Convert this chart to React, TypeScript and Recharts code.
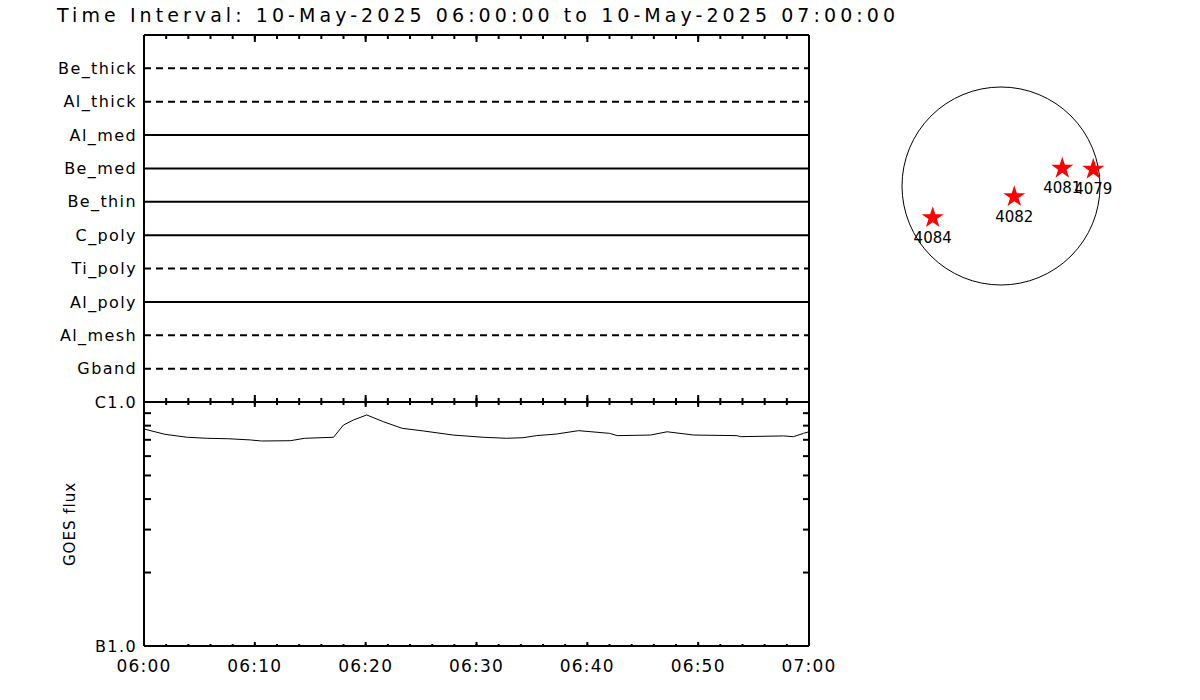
import React from "react";
import {
  ComposedChart,
  Line,
  LineChart,
  ReferenceDot,
  ReferenceLine,
  Scatter,
  ScatterChart,
  Symbols,
  XAxis,
  YAxis,
} from "recharts";

const TITLE = "Time Interval: 10-May-2025 06:00:00 to 10-May-2025 07:00:00";

// XRT filters, top to bottom
const filters = [
  "Be_thick",
  "Al_thick",
  "Al_med",
  "Be_med",
  "Be_thin",
  "C_poly",
  "Ti_poly",
  "Al_poly",
  "Al_mesh",
  "Gband",
];
// filters with observations (drawn solid)
const usedFilters = ["Al_med", "Be_med", "Be_thin", "C_poly", "Al_poly"];

// GOES flux, minutes after 06:00 and W/m^2
const goesMinutes = [
  0, 1.9, 3.9, 5.7, 7.6, 9.6, 10.6, 13.2, 14.5, 17.1, 18.0, 18.9, 20.1, 21.6,
  23.3, 25.2, 27.9, 30.6, 32.7, 34.2, 35.4, 37.2, 39.2, 42.0, 42.7, 45.7, 47.2,
  49.6, 53.5, 53.8, 57.7, 58.6, 59.5, 60,
];
const goesFlux = [
  7.75e-7, 7.37e-7, 7.17e-7, 7.1e-7, 7.07e-7, 6.99e-7, 6.92e-7, 6.94e-7,
  7.1e-7, 7.17e-7, 8.05e-7, 8.44e-7, 8.85e-7, 8.3e-7, 7.8e-7, 7.61e-7,
  7.32e-7, 7.17e-7, 7.1e-7, 7.14e-7, 7.28e-7, 7.39e-7, 7.63e-7, 7.44e-7,
  7.28e-7, 7.32e-7, 7.55e-7, 7.32e-7, 7.28e-7, 7.21e-7, 7.26e-7, 7.21e-7,
  7.44e-7, 7.55e-7,
];

const majorTicks = [0, 10, 20, 30, 40, 50, 60];
const minorTicks = [
  0, 2, 4, 6, 8, 10, 12, 14, 16, 18, 20, 22, 24, 26, 28, 30, 32, 34, 36, 38,
  40, 42, 44, 46, 48, 50, 52, 54, 56, 58, 60,
];
const goesClassTicks = [1e-7, 1e-6];
const goesMinorTicks = [2e-7, 3e-7, 4e-7, 5e-7, 6e-7, 7e-7, 8e-7, 9e-7];

// active regions on the disc (arcsec)
const regionNumbers = ["4084", "4082", "4081", "4079"];
const regionX = [-663, 129, 595, 896];
const regionY = [-308, -104, 172, 162];

const goesData = goesMinutes.map((t, i) => ({ t, flux: goesFlux[i] }));
const regions = regionNumbers.map((noaa, i) => ({
  noaa,
  x: regionX[i],
  y: regionY[i],
}));

const FONT = "'DejaVu Sans', sans-serif";
const axisLine = { stroke: "#000", strokeWidth: 2 };
const tickLine = { stroke: "#000", strokeWidth: 2 };
// mirrored axes need a non-zero size or recharts skips them
const THIN = 0.01;
const noLabel = () => <g />;

const fmtTime = (m: number) => {
  const h = 6 + Math.floor(m / 60);
  const mm = m % 60;
  return `0${h}:${mm < 10 ? "0" : ""}${mm}`;
};
const fmtClass = (v: number) => (v >= 1e-6 ? "C1.0" : "B1.0");
const filterY = (name: string) => filters.length - filters.indexOf(name);

function StarMark(props: any) {
  const { cx, cy, payload } = props;
  return (
    <g>
      <Symbols cx={cx} cy={cy} type="star" size={150} sizeType="area" fill="#ff0000" />
      <text
        x={cx}
        y={cy + 25}
        textAnchor="middle"
        fontSize={15}
        fontFamily={FONT}
        fill="#000"
      >
        {payload.noaa}
      </text>
    </g>
  );
}

function timeTicks(side: "top" | "bottom", major: number, minor: number, line: boolean) {
  return [
    <XAxis key={side + "Maj"} xAxisId={side + "Maj"} dataKey="t" type="number"
      domain={[0, 60]} allowDataOverflow orientation={side} mirror height={THIN}
      ticks={majorTicks} interval={0} tick={noLabel} tickSize={major}
      axisLine={line ? axisLine : false} tickLine={tickLine} />,
    <XAxis key={side + "Min"} xAxisId={side + "Min"} dataKey="t" type="number"
      domain={[0, 60]} allowDataOverflow orientation={side} mirror height={THIN}
      ticks={minorTicks} interval={0} tick={noLabel} tickSize={minor}
      axisLine={false} tickLine={tickLine} />,
  ];
}

function FilterPanel() {
  return (
    <ComposedChart
      width={860}
      height={420}
      data={goesData}
      margin={{ top: 35, right: 51, bottom: 18, left: 0 }}
    >
      {timeTicks("top", 7, 4, true)}
      {timeTicks("bottom", 7, 4, true)}
      <YAxis yAxisId="f" type="number" domain={[0, filters.length + 1]} allowDataOverflow
        width={144} ticks={filters.map(filterY)} interval={0}
        tickFormatter={(v: number) => filters[filters.length - v]}
        tickLine={false} tickMargin={1} axisLine={axisLine}
        tick={{ fill: "#000", fontSize: 16, fontFamily: FONT, letterSpacing: 1.4 }} />
      <YAxis yAxisId="r" orientation="right" mirror width={THIN} type="number"
        domain={[0, filters.length + 1]} allowDataOverflow tick={noLabel}
        tickLine={false} axisLine={axisLine} />
      {filters.map((name) => (
        <ReferenceLine
          key={name}
          xAxisId="topMaj"
          yAxisId="f"
          y={filterY(name)}
          stroke="#000"
          strokeWidth={2}
          strokeDasharray={usedFilters.includes(name) ? undefined : "7 5"}
        />
      ))}
    </ComposedChart>
  );
}

function GoesPanel() {
  return (
    <LineChart
      width={860}
      height={700}
      data={goesData}
      margin={{ top: 402, right: 51, bottom: 24, left: 0 }}
    >
      <XAxis xAxisId="lab" dataKey="t" type="number" domain={[0, 60]} allowDataOverflow
        height={30} ticks={majorTicks} tickFormatter={fmtTime} interval={0}
        tickLine={false} tickMargin={8} axisLine={axisLine}
        tick={{ fill: "#000", fontSize: 17, fontFamily: FONT, letterSpacing: 1.2 }} />
      {timeTicks("bottom", 4, 2, false)}
      {timeTicks("top", 5, 3, true)}
      <YAxis yAxisId="lab" type="number" scale="log" domain={[1e-7, 1e-6]} allowDataOverflow
        width={144} ticks={goesClassTicks} tickFormatter={fmtClass} interval={0}
        tickLine={false} tickMargin={1} axisLine={axisLine}
        tick={{ fill: "#000", fontSize: 16, fontFamily: FONT, letterSpacing: 1.4 }}
        label={{
          value: "GOES flux",
          angle: -90,
          position: "center",
          fill: "#000",
          fontSize: 15,
          fontFamily: FONT,
          letterSpacing: 1,
          dx: -2,
        }} />
      <YAxis yAxisId="lMin" type="number" scale="log" domain={[1e-7, 1e-6]} allowDataOverflow
        mirror width={THIN} ticks={goesMinorTicks} interval={0} tick={noLabel}
        tickSize={7} axisLine={false} tickLine={tickLine} />
      <YAxis yAxisId="rMin" orientation="right" type="number" scale="log" domain={[1e-7, 1e-6]}
        allowDataOverflow mirror width={THIN} ticks={goesMinorTicks} interval={0}
        tick={noLabel} tickSize={6} axisLine={axisLine} tickLine={tickLine} />
      <Line
        xAxisId="lab"
        yAxisId="lab"
        type="linear"
        dataKey="flux"
        stroke="#000"
        strokeWidth={1}
        dot={false}
        isAnimationActive={false}
      />
    </LineChart>
  );
}

function DiscPanel() {
  return (
    <ScatterChart width={262} height={262} margin={{ top: 28, right: 28, bottom: 28, left: 28 }}>
      <XAxis type="number" dataKey="x" domain={[-1000, 1000]} hide />
      <YAxis type="number" dataKey="y" domain={[-1000, 1000]} hide />
      <ReferenceDot x={0} y={0} r={99} fill="none" stroke="#000" strokeWidth={1} ifOverflow="visible" />
      <Scatter data={regions} shape={<StarMark />} isAnimationActive={false} />
    </ScatterChart>
  );
}

export default function App() {
  return (
    <div
      style={{
        position: "absolute",
        left: 0,
        top: 0,
        width: 1200,
        height: 700,
        background: "#fff",
        overflow: "hidden",
      }}
    >
      <svg width={1200} height={40} style={{ position: "absolute", left: 0, top: 0 }}>
        <text
          x={57}
          y={22}
          fontSize={19}
          fontFamily={FONT}
          fill="#000"
          textLength={838}
          lengthAdjust="spacing"
        >
          {TITLE}
        </text>
      </svg>
      <div style={{ position: "absolute", left: 0, top: 0 }}>
        <GoesPanel />
      </div>
      <div style={{ position: "absolute", left: 0, top: 0 }}>
        <FilterPanel />
      </div>
      <div style={{ position: "absolute", left: 870, top: 55 }}>
        <DiscPanel />
      </div>
    </div>
  );
}
